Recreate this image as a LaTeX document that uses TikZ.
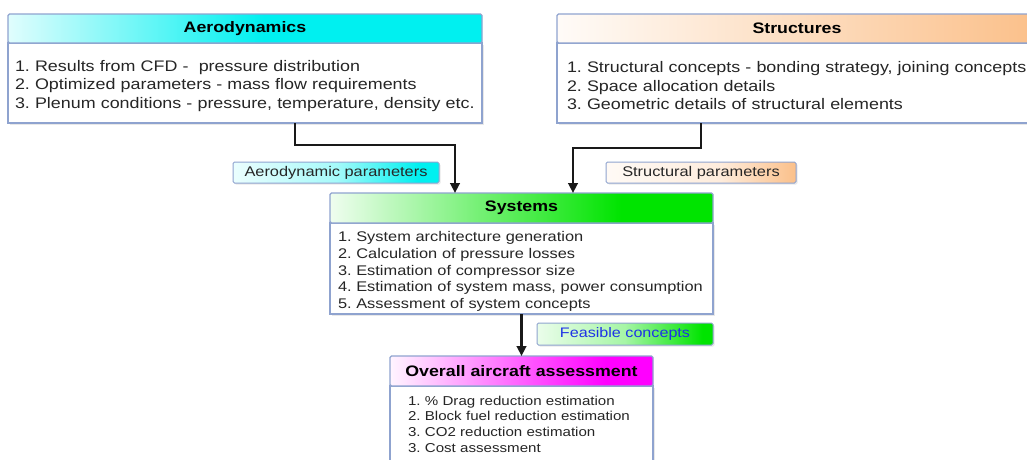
\documentclass[tikz,border=0pt]{standalone}
\usepackage{fontspec}
\setmainfont{Liberation Sans}[FakeStretch=1.17]
\usetikzlibrary{arrows.meta,shadows}
\frenchspacing
\definecolor{bordc}{HTML}{8FA3CF}
\definecolor{txtc}{HTML}{262626}
\definecolor{cyanc}{HTML}{00F0F0}
\definecolor{orangec}{HTML}{FBC08A}
\definecolor{greenc}{HTML}{00E400}
\definecolor{magc}{HTML}{FF00FF}
\definecolor{bluet}{HTML}{1E32E6}
\pgfdeclarehorizontalshading{aeroSh}{100bp}{color(0bp)=(cyanc!12!white); color(25bp)=(cyanc!12!white); color(52bp)=(cyanc); color(100bp)=(cyanc)}
\pgfdeclarehorizontalshading{strSh}{100bp}{color(0bp)=(orangec!6!white); color(25bp)=(orangec!6!white); color(75bp)=(orangec); color(100bp)=(orangec)}
\pgfdeclarehorizontalshading{sysSh}{100bp}{color(0bp)=(greenc!6!white); color(25bp)=(greenc!6!white); color(63bp)=(greenc); color(100bp)=(greenc)}
\pgfdeclarehorizontalshading{ovSh}{100bp}{color(0bp)=(magc!4!white); color(25bp)=(magc!4!white); color(66bp)=(magc); color(100bp)=(magc)}
\pgfdeclarehorizontalshading{aeroPSh}{100bp}{color(0bp)=(cyanc!8!white); color(25bp)=(cyanc!8!white); color(50bp)=(cyanc!35!white); color(70bp)=(cyanc); color(100bp)=(cyanc)}
\pgfdeclarehorizontalshading{strPSh}{100bp}{color(0bp)=(orangec!8!white); color(25bp)=(orangec!8!white); color(55bp)=(orangec!30!white); color(75bp)=(orangec); color(100bp)=(orangec)}
\pgfdeclarehorizontalshading{feasSh}{100bp}{color(0bp)=(greenc!8!white); color(25bp)=(greenc!8!white); color(50bp)=(greenc!35!white); color(72bp)=(greenc); color(100bp)=(greenc)}
\tikzset{
  hdr/.style={draw=bordc, line width=1.2pt, rounded corners=1.5pt, anchor=north west,
    inner sep=0pt, outer sep=0pt, text=black, font=\bfseries\fontsize{15.2}{17}\selectfont},
  bodybox/.style={draw=bordc, line width=1.2pt, fill=white, anchor=north west, align=left,
    inner ysep=0pt, outer sep=0pt, text=txtc,
    drop shadow={opacity=0.18, shadow xshift=1.5pt, shadow yshift=-1.5pt}},
  lbl/.style={draw=bordc, line width=1pt, rounded corners=1.5pt, anchor=north west,
    inner sep=0pt, outer sep=0pt, text=txtc, font=\fontsize{14}{16}\selectfont,
    drop shadow={opacity=0.18, shadow xshift=1.5pt, shadow yshift=-1.5pt}},
  arr/.style={line width=2.5pt, draw=black!90, -{Triangle[width=9.5pt,length=10pt]}}
}
\begin{document}
\begin{tikzpicture}[x=1pt,y=-1pt]
\useasboundingbox (0,0) rectangle (1027,459);
% Aerodynamics
\node[bodybox, text width=460pt, inner xsep=7pt, minimum height=80pt,
  font=\fontsize{15.3}{18.5}\selectfont] (aeroB) at (8,43)
  {\rule{0pt}{17pt}\mbox{1. Results from CFD - \ pressure distribution}\\
   \mbox{2. Optimized parameters - mass flow requirements}\\
   \mbox{3. Plenum conditions - pressure, temperature, density etc.}};
\node[hdr, shading=aeroSh, minimum width=474pt, minimum height=29pt] (aeroH) at (8,14) {Aerodynamics};
% Structures
\node[bodybox, text width=460pt, inner xsep=10pt, minimum height=80pt,
  font=\fontsize{15.3}{18.5}\selectfont] (strB) at (557,43)
  {\rule{0pt}{17pt}\mbox{1. Structural concepts - bonding strategy, joining concepts}\\
   \mbox{2. Space allocation details}\\
   \mbox{3. Geometric details of structural elements}};
\node[hdr, shading=strSh, minimum width=480pt, minimum height=29pt] (strH) at (557,14) {Structures};
% Labels
\node[lbl, shading=aeroPSh, minimum width=206pt, minimum height=21pt] (aeroP) at (233,162) {Aerodynamic parameters};
\node[lbl, shading=strPSh, minimum width=190pt, minimum height=21pt] (strP) at (606,162) {Structural parameters};
% Systems
\node[bodybox, text width=367pt, inner xsep=8pt, minimum height=91pt,
  font=\fontsize{14}{16.8}\selectfont] (sysB) at (330,223)
  {\rule{0pt}{16pt}\mbox{1. System architecture generation}\\
   \mbox{2. Calculation of pressure losses}\\
   \mbox{3. Estimation of compressor size}\\
   \mbox{4. Estimation of system mass, power consumption}\\
   \mbox{5. Assessment of system concepts}};
\node[hdr, shading=sysSh, minimum width=383pt, minimum height=30pt] (sysH) at (330,193) {Systems};
% Feasible
\node[lbl, shading=feasSh, minimum width=176pt, minimum height=22pt, text=bluet,
  font=\fontsize{13.8}{16}\selectfont] (feas) at (537,323) {Feasible concepts};
% Overall
\node[bodybox, text width=227pt, inner xsep=18pt, minimum height=76pt,
  font=\fontsize{12.9}{15.7}\selectfont] (ovB) at (390,386)
  {\mbox{1. \% Drag reduction estimation}\\
   \mbox{2. Block fuel reduction estimation}\\
   \mbox{3. CO2 reduction estimation}\\
   \mbox{3. Cost assessment}};
\node[hdr, shading=ovSh, minimum width=263pt, minimum height=30pt] (ovH) at (390,356) {Overall aircraft assessment};
% Arrows
\draw[arr] ([xshift=50pt]aeroB.south) |- (455,145) -- ([xshift=-66.5pt]sysH.north);
\draw[arr] ([xshift=-96pt]strB.south) |- (573,148) -- ([xshift=51.5pt]sysH.north);
\draw[arr] (sysB.south) -- (ovH.north);
\end{tikzpicture}
\end{document}
